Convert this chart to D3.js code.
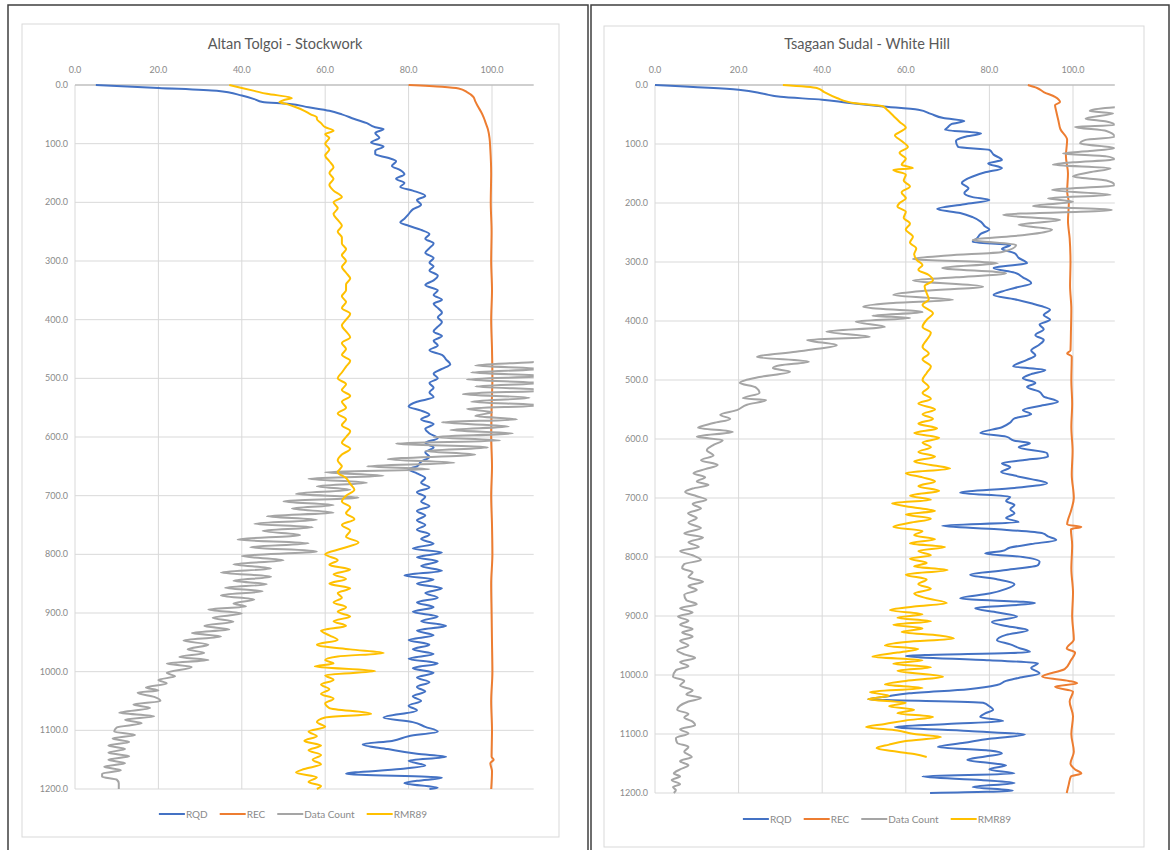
<!DOCTYPE html>
<html><head><meta charset="utf-8">
<script src="https://cdn.jsdelivr.net/npm/d3@7"></script>
<style>
body{margin:0;background:#fff;}
svg{display:block;font-family:Lato,"Open Sans",sans-serif;}
</style></head>
<body><svg id="c" width="1174" height="850"></svg>
<script>
const xTicks = [0,20,40,60,80,100];
const yTicks = [0,100,200,300,400,500,600,700,800,900,1000,1100,1200];
const seriesNames = ["RQD","REC","Data Count","RMR89"];
const seriesColors = ["#4472C4","#ED7D31","#A5A5A5","#FFC000"];
const titles = ["Altan Tolgoi - Stockwork","Tsagaan Sudal - White Hill"];

// Altan Tolgoi - Stockwork : [depth, value]
const atRQD = [[0,5],[5,20],[10,34],[18,40],[24,43],[29,45],[32,51],[38,56],[44,61],[50,64],[58,67],[65,70],[72,72],[75,74],[82,72],[90,73],[98,71],[105,74],[112,72],[118,72],[124,75],[130,77],[138,76],[145,78],[152,79],[160,77],[167,79],[174,78],[180,81],[189,84],[196,82],[204,83],[212,81],[220,80],[228,79],[234,78],[240,80],[247,83],[254,85],[262,84],[270,86],[278,85],[286,84],[295,86],[303,85],[309,86],[316,85],[325,87],[333,86],[341,84],[350,87],[358,86],[366,88],[373,86],[380,87],[388,88],[396,87],[404,88],[412,87],[420,86],[428,88],[436,86],[444,87],[452,85],[460,88],[468,89],[476,90],[484,88],[492,86],[500,87],[508,85],[516,86],[524,85],[532,86],[540,82],[548,80],[555,83],[562,85],[570,83],[578,86],[586,84],[594,85],[602,87],[610,84],[618,86],[626,84],[634,85],[642,83],[650,82],[655,80],[662,82],[670,84],[678,83],[686,85],[694,82],[702,84],[710,83],[718,85],[726,82],[734,84],[742,82],[750,84],[758,82],[766,85],[774,83],[782,86],[790,81],[797,88],[805,82],[812,87],[820,83],[828,88],[836,79],[843,86],[850,82],[858,88],[866,84],[874,87],[882,82],[890,86],[898,81],[906,87],[914,83],[922,89],[930,82],[938,86],[946,80],[954,85],[962,81],[970,86],[978,80],[986,87],[994,81],[1002,86],[1010,82],[1018,85],[1026,82],[1034,84],[1042,81],[1050,83],[1058,80],[1066,82],[1078,74],[1086,81],[1094,84],[1102,87],[1110,80],[1118,76],[1124,69],[1132,75],[1140,82],[1145,89],[1152,80],[1160,84],[1166,78],[1174,65],[1181,88],[1186,82],[1190,79],[1198,87],[1200,85]];
const atREC = [[0,80],[3,88],[6,92],[12,94],[20,95.5],[28,96],[35,96.5],[46,97.4],[55,98],[65,98.5],[75,99],[90,99.4],[110,99.6],[150,99.8],[200,99.7],[250,99.9],[300,99.8],[350,100],[400,99.8],[450,100],[500,100.1],[550,99.9],[600,99.8],[650,100],[700,99.8],[750,100],[800,100.1],[850,99.8],[900,99.9],[950,100],[1000,100.1],[1050,99.8],[1100,100],[1145,99.9],[1150,100.4],[1156,99.6],[1170,100],[1200,99.8]];
const atCount = [[465,115],[472,110],[478,96],[484,112],[490,95],[496,113],[502,94],[508,112],[514,96],[520,114],[527,93],[533,109],[540,95],[546,112],[552,94],[558,100],[564,96],[570,106],[575,88],[582,104],[588,90],[594,105],[600,86],[606,102],[611,77],[618,99],[624,84],[630,96],[638,75],[644,91],[650,70],[655,85],[660,60],[666,74],[671,56],[678,70],[684,58],[690,66],[697,53],[703,68],[710,50],[716,62],[722,52],[729,62],[735,46],[741,58],[748,43],[754,57],[760,45],[767,54],[775,39],[781,56],[788,42],[795,58],[803,40],[810,50],[817,38],[824,47],[831,35],[838,47],[845,38],[851,46],[857,36],[863,45],[870,35],[877,43],[884,38],[889,41],[894,32],[901,40],[908,33],[915,38],[922,31],[928,37],[934,28],[940,35],[947,26],[954,32],[962,27],[968,31],[975,25],[980,32],[986,22],[992,28],[1002,22],[1008,24],[1014,20],[1020,22],[1027,17],[1032,20],[1036,15],[1043,19],[1050,20.5],[1056,14],[1062,18],[1070,10.6],[1076,19],[1082,12],[1088,16],[1095,10],[1102,9.4],[1108,14.4],[1114,9],[1120,13],[1126,8],[1132,12],[1138,8],[1144,13],[1150,8],[1156,12],[1162,7],[1168,11],[1174,6.5],[1179,6.5],[1184,10],[1190,10.5],[1200,10.5]];
const atRMR = [[0,37],[5,40],[10,43],[15,46],[22,52],[26,50],[29,49],[33,51],[38,53],[44,55],[50,56.5],[55,58],[58,58],[65,59],[72,60],[78,62],[84,60],[90,61],[100,60],[110,61],[120,60],[130,61],[140,62],[150,61],[160,62],[170,61],[180,62],[191,64],[200,62],[210,63],[220,62],[230,63],[240,64],[250,63],[260,64],[270,64],[280,65],[290,64],[300,65],[310,64],[320,65],[330,66],[340,65],[350,65],[360,64],[370,65],[380,64],[390,66],[400,65],[410,64],[420,65],[430,66],[440,64],[450,65],[460,64],[470,66],[480,65],[490,64],[500,63],[510,65],[520,64],[530,66],[540,64],[550,65],[560,63],[570,65],[580,64],[590,66],[600,65],[610,64],[620,66],[630,64],[640,63],[650,64],[660,63],[670,65],[680,66],[690,67],[700,65],[710,64],[720,66],[730,65],[740,67],[750,64],[760,66],[770,65],[780,68],[790,64],[800,60],[810,63],[818,61],[826,66],[834,62],[842,65],[850,61],[858,66],[866,63],[874,64],[882,62],[890,65],[898,63],[906,66],[914,62],[922,65],[930,59],[938,61],[946,63],[954,58],[962,66],[968,74],[974,63],[980,60],[986,62],[991,57.5],[999,72],[1006,60],[1014,62],[1022,59],[1030,61],[1038,59],[1046,62],[1054,60],[1062,61],[1072,71],[1078,60],[1086,58],[1094,60],[1102,56],[1110,58],[1118,55],[1126,59],[1134,56],[1142,59],[1150,57],[1158,59],[1166,55],[1172,53],[1180,58],[1188,56],[1195,59],[1200,58]];

// Tsagaan Sudal - White Hill : [depth, value]
const tsRQD = [[0,0],[8,20],[15,26],[20,30],[25,40],[30,46],[36,54],[42,63],[49,66],[56,69],[61,74],[66,71],[72,70],[76,69.4],[82,78],[88,74],[95,72],[105,72.5],[110,80],[118,81],[127,83],[133,79.7],[141,83],[148,79],[155,76],[166,73.4],[175,75],[183,74],[190,76],[195,80],[202,74],[210,67.5],[217,73],[224,76],[232,78],[240,79],[245,80],[252,78],[260,77],[266,76],[271,85],[278,83],[285,86],[293,87],[302,89],[306,85],[310,81],[318,86],[326,88],[336,90],[344,86],[350,83],[356,81],[363,86],[370,90],[376,93],[381,94.5],[390,93],[398,94.5],[406,92],[414,93],[424,91],[432,93],[440,92],[450,90],[458,91],[466,89],[477,85.7],[483,93.4],[490,90],[497,88],[505,91],[512,89],[520,92],[528,93],[537,96.4],[544,92],[551,88],[558,90],[565,86],[572,85],[580,83],[590,77.8],[596,84],[603,86],[607,89.7],[614,87],[624,93.8],[630,94],[636,88],[641,83],[648,85],[656,82.8],[662,86],[668,90],[675,93.8],[683,86],[691,73],[698,85],[705,84],[712,86],[719,85],[726,86],[734,84],[741,87],[747,68.7],[753,82],[760,92.8],[765,94],[771,96],[778,90],[784,85],[790,83],[794,79],[800,88],[808,92],[814,91.6],[822,84],[830,75.4],[838,82],[846,86],[854,84],[862,80],[870,73],[878,90.9],[887,76.6],[894,82],[901,86.6],[910,80.6],[917,84],[924,89.2],[932,84],[941,81.8],[948,85],[954,87],[961,89.7],[968,60],[975,80],[980,91.6],[988,90],[997,92],[1005,87],[1010,84],[1017,81.8],[1024,75],[1031,60.8],[1037,55],[1041,51],[1047,78.5],[1053,80],[1059,80.9],[1065,79],[1071,77.8],[1078,83.3],[1083,70],[1088,57.4],[1095,75],[1101,88.5],[1108,80],[1115,74],[1122,67.7],[1128,80],[1133,83],[1138,79],[1144,74.7],[1149,80],[1153,84],[1160,80],[1167,86],[1172,64],[1178,78],[1183,86],[1190,76],[1196,85.6],[1200,65.8]];
const tsREC = [[0,89.2],[5,91.4],[12,93],[20,95.7],[29,96.9],[34,95.7],[45,96],[60,96.5],[75,97],[93,98.6],[120,98.3],[150,98.8],[180,98.6],[200,99],[230,98.8],[260,99.2],[300,99.4],[340,99.3],[380,99.6],[420,99.5],[450,99.4],[455,98.6],[460,99.7],[500,99.6],[540,99.8],[580,99.6],[620,99.9],[660,99.7],[700,100.2],[720,99.6],[745,98.6],[749,102],[753,99.5],[780,99.8],[820,99.6],[860,100],[900,99.8],[940,100.2],[955,98.5],[962,100.5],[975,99.5],[990,98],[1003,92.6],[1010,99],[1014,101],[1020,95.7],[1028,100],[1045,99.2],[1070,100],[1100,99.6],[1130,100.2],[1150,99.4],[1160,100.5],[1167,102],[1172,99.5],[1185,99],[1200,98.5]];
const tsCount = [[35,115],[39,107.7],[44,104],[48,109.6],[57,103],[62,108],[68,110],[71,100.5],[78,108],[88,110],[93,103],[99,101.7],[107,110],[112,104],[116,97.6],[121,108],[126,110],[131,100],[135,95.2],[141,109],[148,104],[155,100],[162,108],[170,110],[178,95],[186,109],[192,94],[198,100],[205,90.4],[212,109.3],[220,83.3],[229,96.9],[237,87],[245,95],[254,88.8],[263,76],[271,86.4],[283,83],[289,70],[295,61.7],[302,82],[310,68.7],[319,84],[326,72],[331,61.7],[342,78.5],[349,64],[356,57],[364,71.3],[370,56],[376,49.8],[385,64],[391,52],[395,61],[401,48],[410,55],[418,41],[427,51.4],[432,36.4],[441,43.5],[447,39],[452,33.7],[461,24.4],[469,36.8],[475,30],[480,28.2],[486,32.3],[495,25],[505,20.3],[512,24],[522,25],[531,21],[534,26.6],[542,22],[551,19.6],[559,15.6],[566,18],[573,14],[581,10.3],[588,18.6],[596,10],[602,16.2],[610,14],[619,12.4],[628,14],[636,11],[644,15],[651,12],[658,9.2],[665,12],[672,10],[678,12.8],[684,9],[690,7.2],[697,10],[703,12.3],[710,9],[718,11],[726,7.9],[734,10],[742,8],[751,11],[760,7],[767,11.5],[775,8],[783,10.5],[790,6],[797,9],[805,11],[812,7],[819,6.5],[826,9],[834,8],[842,11.5],[849,8],[856,10],[864,7],[873,7.5],[880,10],[887,6],[894,9],[901,5.5],[908,8],[915,6],[922,9],[928,6.5],[935,9],[942,6],[950,8],[958,5.3],[965,7],[971,9.6],[978,6],[985,8],[992,5],[1003,4.3],[1010,7],[1018,6],[1026,9],[1033,7.5],[1039,11],[1045,8],[1052,6],[1059,5.3],[1066,8],[1072,7],[1079,9],[1085,9.6],[1092,6],[1099,8],[1107,5],[1115,5.3],[1122,8],[1130,7],[1139,8.8],[1146,6],[1153,8],[1160,6],[1167,4.5],[1172,6],[1178,4],[1185,6],[1190,4.3],[1195,5],[1200,4.5]];
const tsRMR = [[0,30.6],[5,38.7],[12,40.5],[22,43.5],[31,48],[36,54.5],[42,55.5],[52,57],[63,58.6],[72,60],[80,58.5],[85,57.4],[95,59],[105,60.5],[115,58.5],[125,60],[135,59],[141,61.7],[144,57],[152,60],[162,59.5],[172,61],[182,59],[192,60],[200,58.5],[206,58],[215,60],[225,59.5],[235,61],[245,60],[257,61.7],[267,61],[277,62.5],[287,62],[297,62.7],[305,64],[313,63],[322,65.5],[331,66.5],[341,64.5],[353,65],[363,65.5],[373,64],[387,66.5],[398,65],[410,64],[420,66],[432,65],[444,64],[455,65.5],[465,64],[477,66],[488,65],[500,64],[512,65.5],[522,64],[532,66],[540,63],[550,67],[558,64],[566,66.5],[574,63],[582,67.5],[590,62],[598,68],[606,64],[614,66],[622,63],[630,67],[638,62],[644,66],[650,70.6],[658,60],[665,64],[672,67],[680,63],[688,68],[696,61],[703,66],[709,56.7],[716,62],[722,67],[728,60],[735,66],[742,61],[749,57],[756,64],[763,62],[770,67],[777,61],[783,69.4],[790,63],[797,66],[803,61],[810,65],[816,62],[822,70],[830,60],[838,65],[846,63],[854,66],[862,62],[870,65],[878,69.8],[884,62],[890,56.2],[897,64],[903,58],[909,66],[915,57],[921,64],[927,59],[933,68],[938,71.5],[944,60],[950,55],[956,63],[962,58],[969,52],[975,64],[981,57],[987,66],[993,58],[1003,68.9],[1010,60],[1016,55],[1022,64],[1029,51.4],[1035,56],[1041,51],[1047,60],[1053,56],[1059,62],[1065,58],[1071,66.5],[1077,60],[1083,55],[1088,50.5],[1094,58],[1100,62],[1105,68.4],[1112,60],[1118,56],[1124,53],[1130,58],[1134,62],[1139,65]];

const svg = d3.select("#c");

function drawPanel(o){
  const g = svg.append("g");
  g.append("rect").attr("x",o.box[0]).attr("y",o.box[1]).attr("width",o.box[2]).attr("height",o.box[3])
    .attr("fill","#fff").attr("stroke","#3f3f3f").attr("stroke-width",1.5);
  g.append("rect").attr("x",o.area[0]).attr("y",o.area[1]).attr("width",o.area[2]).attr("height",o.area[3])
    .attr("fill","#fff").attr("stroke","#d9d9d9").attr("stroke-width",1);
  const x = d3.scaleLinear().domain([0,110]).range([o.plot[0],o.plot[1]]);
  const y = d3.scaleLinear().domain([0,1200]).range([o.plot[2],o.plot[3]]);
  g.append("g").selectAll("line").data(xTicks).join("line")
    .attr("x1",d=>x(d)).attr("x2",d=>x(d)).attr("y1",y(0)).attr("y2",y(1200))
    .attr("stroke","#d9d9d9").attr("stroke-width",1);
  g.append("g").selectAll("line").data(yTicks.slice(1)).join("line")
    .attr("x1",x(0)).attr("x2",x(110)).attr("y1",d=>y(d)).attr("y2",d=>y(d))
    .attr("stroke","#d9d9d9").attr("stroke-width",1);
  g.append("line").attr("x1",x(0)).attr("x2",x(110)).attr("y1",y(0)).attr("y2",y(0))
    .attr("stroke","#bfbfbf").attr("stroke-width",1.5);
  g.append("g").selectAll("text").data(xTicks).join("text")
    .attr("x",d=>x(d)).attr("y",y(0)-12).attr("text-anchor","middle")
    .attr("font-size",9).attr("fill","#8a8a8a").text(d=>d3.format(".1f")(d));
  g.append("g").selectAll("text").data(yTicks).join("text")
    .attr("x",x(0)-7).attr("y",d=>y(d)+3).attr("text-anchor","end")
    .attr("font-size",9).attr("fill","#8a8a8a").text(d=>d3.format(".1f")(d));
  g.append("text").attr("x",o.titleX).attr("y",o.titleY).attr("text-anchor","middle")
    .attr("font-size",14.5).attr("fill","#595959").text(o.title);
  const cid = "clip"+o.id;
  svg.append("defs").append("clipPath").attr("id",cid).append("rect")
    .attr("x",x(0)).attr("y",y(0)-3).attr("width",x(110)-x(0)).attr("height",y(1200)-y(0)+6);
  const line = d3.line().x(d=>x(d[1])).y(d=>y(d[0])).curve(d3.curveMonotoneY);
  const lg = g.append("g").attr("clip-path",`url(#${cid})`);
  o.series.forEach((s,i)=>{
    lg.append("path").datum(s).attr("d",line).attr("fill","none")
      .attr("stroke",seriesColors[i]).attr("stroke-width",2).attr("stroke-linejoin","round");
  });
  const leg = g.append("g");
  let cx = 0;
  seriesNames.forEach((n,i)=>{
    const it = leg.append("g").attr("transform",`translate(${cx},0)`);
    it.append("line").attr("x1",0).attr("x2",26).attr("y1",0).attr("y2",0)
      .attr("stroke",seriesColors[i]).attr("stroke-width",2);
    const t = it.append("text").attr("x",27).attr("y",3.5).attr("font-size",10).attr("fill","#8a8a8a").text(n);
    cx += 27 + t.node().getComputedTextLength() + 12;
  });
  const w = cx - 12;
  leg.attr("transform",`translate(${o.legendCX - w/2},${o.legendY})`);
}

drawPanel({id:"L", title:titles[0], box:[8,5,580,870], area:[22,24,537,813],
  plot:[75, 75+4.17*110, 85, 789], titleX:285, titleY:49, legendCX:293, legendY:814,
  series:[atRQD, atREC, atCount, atRMR]});
drawPanel({id:"R", title:titles[1], box:[591,5,578,870], area:[604,26,540,821],
  plot:[655, 655+4.18*110, 85, 793], titleX:867, titleY:49, legendCX:877, legendY:819,
  series:[tsRQD, tsREC, tsCount, tsRMR]});
</script></body></html>
